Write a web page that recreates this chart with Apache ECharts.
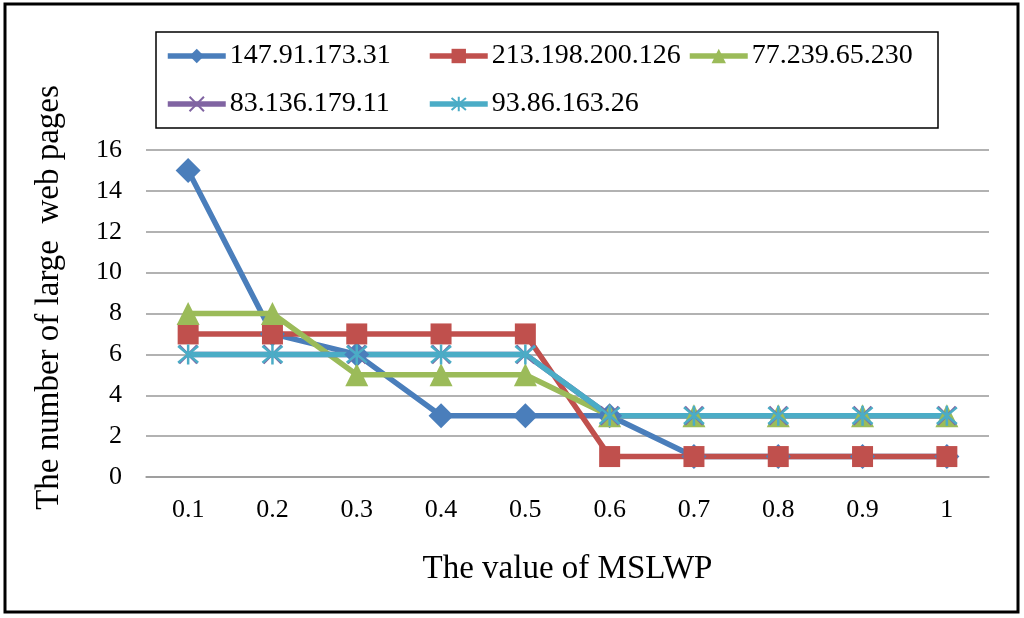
<!DOCTYPE html>
<html>
<head>
<meta charset="utf-8">
<script src="https://cdn.jsdelivr.net/npm/echarts@6/dist/echarts.min.js"></script>
<style>html,body{margin:0;padding:0;background:#fff;}#c{width:1024px;height:618px;}</style>
</head>
<body>
<div id="c"></div>
<script>
const categories = ['0.1','0.2','0.3','0.4','0.5','0.6','0.7','0.8','0.9','1'];
const seriesNames = ['147.91.173.31','213.198.200.126','77.239.65.230','83.136.179.11','93.86.163.26'];
const s1 = [15, 7, 6, 3, 3, 3, 1, 1, 1, 1];
const s2 = [7, 7, 7, 7, 7, 1, 1, 1, 1, 1];
const s3 = [8, 8, 5, 5, 5, 3, 3, 3, 3, 3];
const s4 = [6, 6, 6, 6, 6, 3, 3, 3, 3, 3];
const s5 = [6, 6, 6, 6, 6, 3, 3, 3, 3, 3];
const yTicks = {min: 0, max: 16, interval: 2};

const colors = ['#4A7EBB', '#C0504D', '#9BBB59', '#8064A2', '#4BACC6'];
const symbols = [
  'diamond', 'rect', 'triangle',
  'path://M0,0L10,10M10,0L0,10',
  'path://M0,0L10,10M10,0L0,10M5,-1L5,11'
];
const sizes = [25, 21, 23, 18, 20];
const data = [s1, s2, s3, s4, s5];
const font = "'Liberation Serif', 'Times New Roman', serif";

const series = data.map((d, i) => ({
  name: seriesNames[i],
  type: 'line',
  data: d,
  symbol: symbols[i],
  symbolSize: sizes[i],
  showAllSymbol: true,
  lineStyle: {color: colors[i], width: 5.5},
  itemStyle: (i >= 3) ? {color: colors[i], borderColor: colors[i], borderWidth: 2.5} : {color: colors[i]},
  emphasis: {disabled: true},
  animation: false
}));

const legendPos = [[165, 41], [427, 41], [687, 41], [165, 89], [427, 89]];
const legends = seriesNames.map((n, i) => ({
  data: [n],
  left: legendPos[i][0],
  top: legendPos[i][1],
  itemWidth: 58,
  itemHeight: 18,
  itemGap: 0,
  padding: 0,
  selectedMode: false,
  lineStyle: {width: 5.5},
  textStyle: {fontFamily: font, fontSize: 28, color: '#000', lineHeight: 30, padding: [0, 0, 0, -1]}
}));

const chart = echarts.init(document.getElementById('c'));
chart.setOption({
  backgroundColor: '#fff',
  animation: false,
  graphic: [
    {type: 'rect', shape: {x: 5, y: 4, width: 1013, height: 608}, style: {fill: 'none', stroke: '#000', lineWidth: 3}, silent: true},
    {type: 'rect', shape: {x: 156, y: 32, width: 782, height: 96}, style: {fill: 'none', stroke: '#000', lineWidth: 1.5}, silent: true}
  ],
  legend: legends,
  grid: {left: 146, right: 35, top: 150, bottom: 141},
  xAxis: {
    type: 'category',
    data: categories,
    boundaryGap: true,
    axisLine: {show: true, lineStyle: {color: '#999', width: 1.5}},
    axisTick: {show: false},
    axisLabel: {fontFamily: font, fontSize: 26, color: '#000', margin: 20},
    name: 'The value of MSLWP',
    nameLocation: 'middle',
    nameGap: 76,
    nameTextStyle: {fontFamily: font, fontSize: 33, color: '#000'}
  },
  yAxis: {
    type: 'value',
    min: yTicks.min,
    max: yTicks.max,
    interval: yTicks.interval,
    axisLine: {show: false},
    axisTick: {show: false},
    splitLine: {show: true, lineStyle: {color: '#999', width: 1.5}},
    axisLabel: {fontFamily: font, fontSize: 26, color: '#000', margin: 24},
    name: 'The number of large  web pages',
    nameLocation: 'middle',
    nameGap: 80,
    nameRotate: 90,
    nameTextStyle: {fontFamily: font, fontSize: 33, color: '#000', padding: [0, 0, 0, 32]}
  },
  series: series
});
</script>
</body>
</html>
